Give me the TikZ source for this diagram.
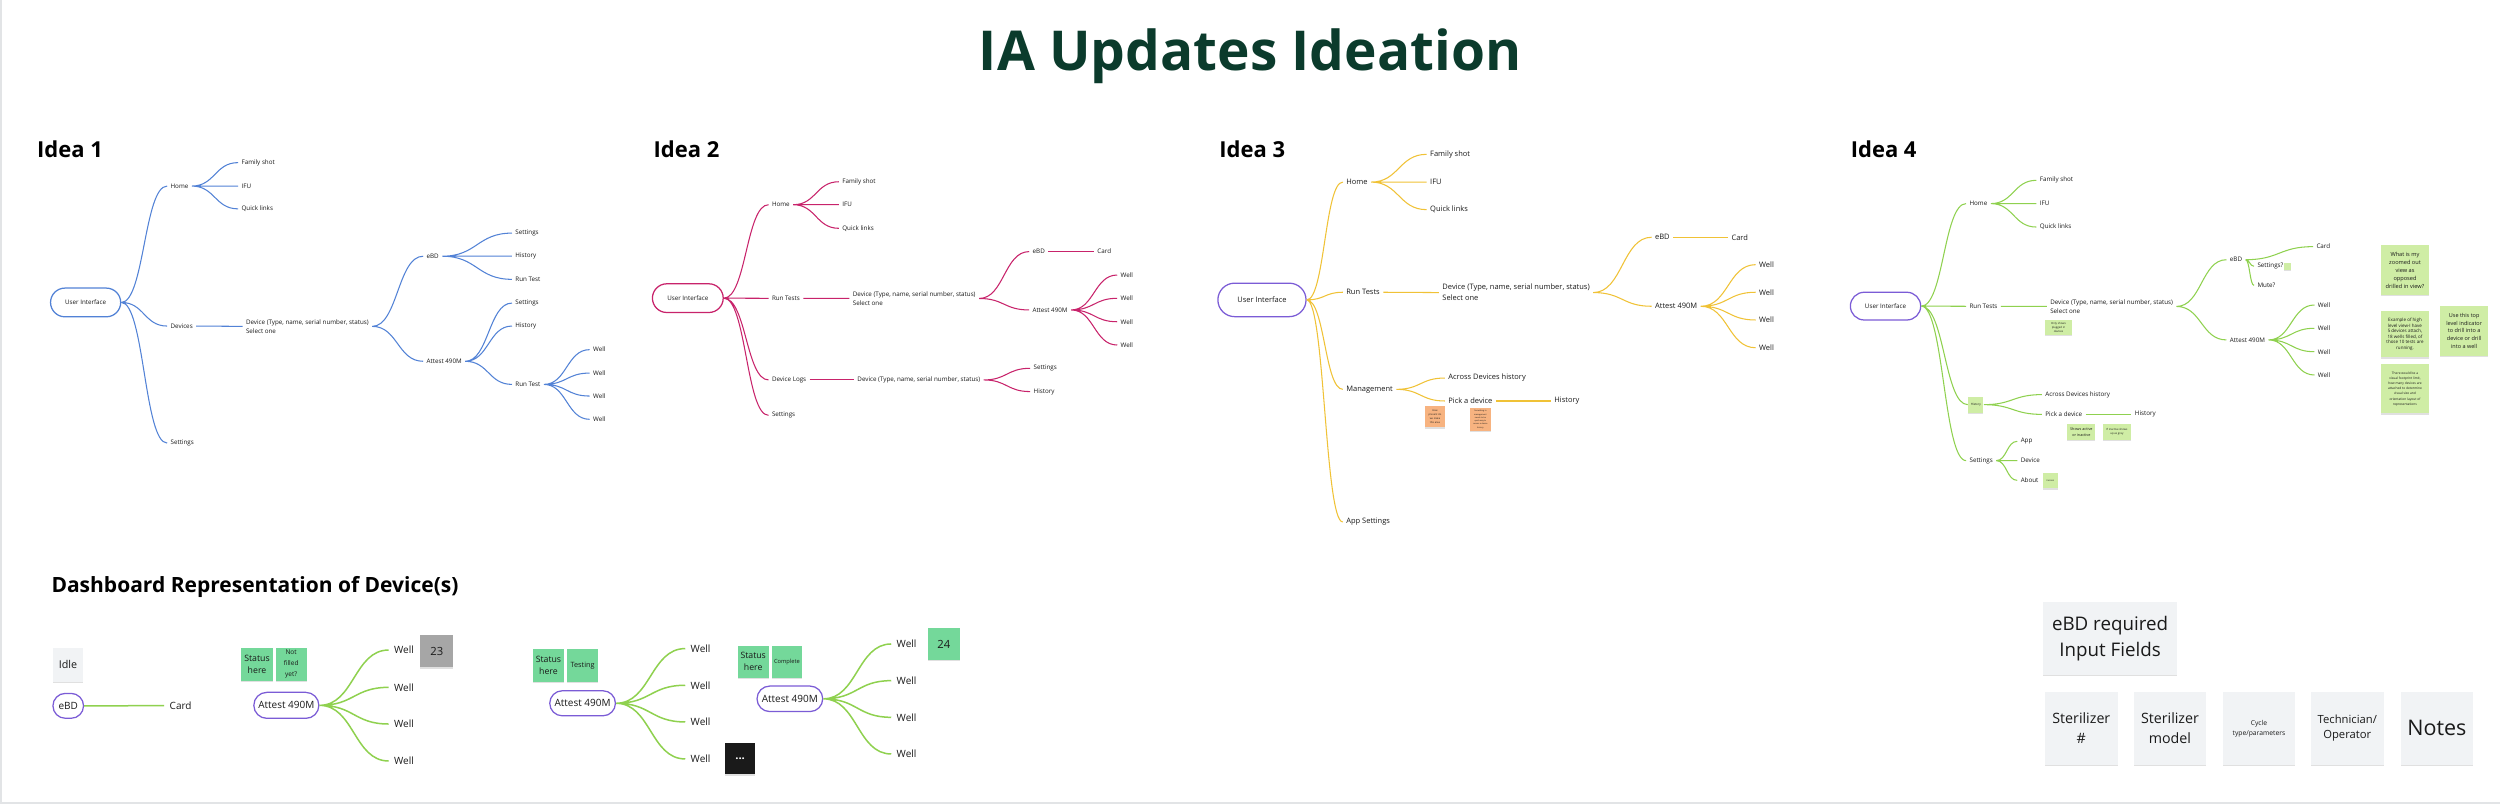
\documentclass[tikz,border=0pt]{standalone}
\usepackage{fontspec}
\setmainfont{Open Sans}
\usepackage{tikz}
\usetikzlibrary{shapes.misc, calc, shadows}
\definecolor{titlegreen}{HTML}{0B3B2C}
\definecolor{ideablue}{HTML}{5282D6}
\definecolor{ideapink}{HTML}{C8236B}
\definecolor{ideagold}{HTML}{F0C236}
\definecolor{ideagreen}{HTML}{8FD14F}
\definecolor{pillpurple}{HTML}{7B5CD6}
\definecolor{stickygreen}{HTML}{CFEDA5}
\definecolor{stickyorange}{HTML}{F7B380}
\definecolor{mint}{HTML}{74D89A}
\definecolor{wellgrey}{HTML}{A6A6A6}
\definecolor{paper}{HTML}{F1F3F5}
\definecolor{framegrey}{HTML}{E2E4E6}
\definecolor{ink}{HTML}{1A1A1A}
\newlength{\pxu}
\setlength{\pxu}{0.6378pt}
\newcommand{\mapfont}{\fontsize{2.5}{3.7}\selectfont}
\newcommand{\mapfontL}{\fontsize{3}{4.4}\selectfont}
\newcommand{\dashfont}{\fontsize{4}{5}\selectfont}
\tikzset{
    lbl/.style={anchor=west, inner xsep=1.2pt, inner ysep=0.3pt, xshift=-1.2pt, text=ink, font=\mapfont, align=left},
    lblL/.style={lbl, font=\mapfontL},
    dlbl/.style={lbl, inner xsep=2pt, xshift=-2pt, font=\dashfont},
    pill/.style={rounded rectangle, draw=pillpurple, line width=0.5pt, fill=white, inner sep=0pt, text=ink, font=\mapfont},
    head/.style={anchor=base west, inner sep=0pt, font=\fontsize{8.8}{10}\selectfont\bfseries, text=black},
    sticky/.style={rectangle, inner sep=0pt, align=center, text=ink, drop shadow={shadow xshift=0pt, shadow yshift=-0.5pt, opacity=0.12, fill=black}},
    branch/.style={to path={let \p1=(\tikztostart), \p2=(\tikztotarget) in .. controls ({0.5*\x1+0.5*\x2},\y1) and ({0.5*\x1+0.5*\x2},\y2) .. (\tikztotarget)}},
    link/.style={line width=0.42pt},
    dlink/.style={line width=0.6pt, ideagreen}
}
\begin{document}
\begin{tikzpicture}[x=\pxu, y=-\pxu]
    \useasboundingbox (0,0) rectangle (1568,506);
    \fill [white] (0,0) rectangle (1568,506);
    \draw [framegrey, line width=0.6pt] (0.6,0) -- (0.6,503.5) -- (1568,503.5);

    \node [anchor=base, inner sep=0pt, font=\fontsize{22}{26}\selectfont\bfseries, text=titlegreen] (title) at (784,44.5) {IA Updates Ideation};
    \node [head] (idea1) at (23,98.7) {Idea 1};
    \node [head] (idea2) at (409.6,98.7) {Idea 2};
    \node [head] (idea3) at (764.5,98.7) {Idea 3};
    \node [head] (idea4) at (1160.5,98.7) {Idea 4};
    \node [head, font=\fontsize{8.4}{10}\selectfont\bfseries] (dash) at (32,371.5) {Dashboard Representation of Device(s)};

    % Idea 1
    \node [pill, draw=ideablue, minimum width=44*\pxu, minimum height=18*\pxu] (ui1) at (53.7,189.7) {User Interface};
    \node [lbl] (home1) at (106.7,116.7) {Home};
    \node [lbl] (fam1) at (151.2,102) {Family shot};
    \node [lbl] (ifu1) at (151.2,116.7) {IFU};
    \node [lbl] (ql1) at (151.2,131) {Quick links};
    \node [lbl] (devs1) at (106.7,204.5) {Devices};
    \node [lbl] (sel1) at (154,204.7) {Device (Type, name, serial number, status)\\Select one};
    \node [lbl] (ebd1) at (267.3,160.7) {eBD};
    \node [lbl] (ebs1) at (323,146.2) {Settings};
    \node [lbl] (ebh1) at (323,160.7) {History};
    \node [lbl] (ebr1) at (323,175.2) {Run Test};
    \node [lbl] (att1) at (267.3,226.6) {Attest 490M};
    \node [lbl] (ats1) at (323,190.1) {Settings};
    \node [lbl] (ath1) at (323,204.5) {History};
    \node [lbl] (atr1) at (323,241.1) {Run Test};
    \node [lbl] (w1a) at (371.7,219.3) {Well};
    \node [lbl] (w1b) at (371.7,234) {Well};
    \node [lbl] (w1c) at (371.7,248.4) {Well};
    \node [lbl] (w1d) at (371.7,263) {Well};
    \node [lbl] (set1) at (106.7,277.9) {Settings};

    \draw [link, ideablue] (ui1.east) to[branch] (home1.west) (ui1.east) to[branch] (devs1.west) (ui1.east) to[branch] (set1.west);
    \draw [link, ideablue] (home1.east) to[branch] (fam1.west) (home1.east) to[branch] (ifu1.west) (home1.east) to[branch] (ql1.west);
    \draw [link, ideablue] (devs1.east) to[branch] (sel1.west);
    \draw [link, ideablue] (sel1.east) to[branch] (ebd1.west) (sel1.east) to[branch] (att1.west);
    \draw [link, ideablue] (ebd1.east) to[branch] (ebs1.west) (ebd1.east) to[branch] (ebh1.west) (ebd1.east) to[branch] (ebr1.west);
    \draw [link, ideablue] (att1.east) to[branch] (ats1.west) (att1.east) to[branch] (ath1.west) (att1.east) to[branch] (atr1.west);
    \draw [link, ideablue] (atr1.east) to[branch] (w1a.west) (atr1.east) to[branch] (w1b.west) (atr1.east) to[branch] (w1c.west) (atr1.east) to[branch] (w1d.west);

    % Idea 2
    \node [pill, draw=ideapink, minimum width=44.4*\pxu, minimum height=18*\pxu] (ui2) at (431.4,187) {User Interface};
    \node [lbl] (home2) at (483.9,128.4) {Home};
    \node [lbl] (fam2) at (528,114) {Family shot};
    \node [lbl] (ifu2) at (528,128.4) {IFU};
    \node [lbl] (ql2) at (528,143.2) {Quick links};
    \node [lbl] (rt2) at (483.9,187.1) {Run Tests};
    \node [lbl] (sel2) at (534.6,187.2) {Device (Type, name, serial number, status)\\Select one};
    \node [lbl] (ebd2) at (647.4,157.8) {eBD};
    \node [lbl] (card2) at (688,157.8) {Card};
    \node [lbl] (att2) at (647.3,194.4) {Attest 490M};
    \node [lbl] (w2a) at (702.6,172.5) {Well};
    \node [lbl] (w2b) at (702.6,187.1) {Well};
    \node [lbl] (w2c) at (702.6,201.8) {Well};
    \node [lbl] (w2d) at (702.6,216.4) {Well};
    \node [lbl] (logs2) at (483.9,238.3) {Device Logs};
    \node [lbl] (dv2) at (537.5,238.3) {Device (Type, name, serial number, status)};
    \node [lbl] (ls2) at (648,231) {Settings};
    \node [lbl] (lh2) at (648,245.6) {History};
    \node [lbl] (set2) at (483.9,260.5) {Settings};

    \draw [link, ideapink] (ui2.east) to[branch] (home2.west) (ui2.east) to[branch] (rt2.west) (ui2.east) to[branch] (logs2.west) (ui2.east) to[branch] (set2.west);
    \draw [link, ideapink] (home2.east) to[branch] (fam2.west) (home2.east) to[branch] (ifu2.west) (home2.east) to[branch] (ql2.west);
    \draw [link, ideapink] (rt2.east) to[branch] (sel2.west);
    \draw [link, ideapink] (sel2.east) to[branch] (ebd2.west) (sel2.east) to[branch] (att2.west);
    \draw [link, ideapink] (ebd2.east) to[branch] (card2.west);
    \draw [link, ideapink] (att2.east) to[branch] (w2a.west) (att2.east) to[branch] (w2b.west) (att2.east) to[branch] (w2c.west) (att2.east) to[branch] (w2d.west);
    \draw [link, ideapink] (logs2.east) to[branch] (dv2.west);
    \draw [link, ideapink] (dv2.east) to[branch] (ls2.west) (dv2.east) to[branch] (lh2.west);

    % Idea 3
    \node [pill, font=\mapfontL, minimum width=55.3*\pxu, minimum height=21*\pxu] (ui3) at (791.5,188.1) {User Interface};
    \node [lblL] (home3) at (844.1,114.2) {Home};
    \node [lblL] (fam3) at (896.7,96.8) {Family shot};
    \node [lblL] (ifu3) at (896.7,114.2) {IFU};
    \node [lblL] (ql3) at (896.7,131.5) {Quick links};
    \node [lblL] (rt3) at (844.1,183.3) {Run Tests};
    \node [lblL] (sel3) at (904.4,183.5) {Device (Type, name, serial number, status)\\Select one};
    \node [lblL] (ebd3) at (1037.8,148.8) {eBD};
    \node [lblL] (card3) at (1085.7,148.8) {Card};
    \node [lblL] (att3) at (1037.8,192.1) {Attest 490M};
    \node [lblL] (w3a) at (1103,166) {Well};
    \node [lblL] (w3b) at (1103,183.3) {Well};
    \node [lblL] (w3c) at (1103,200.7) {Well};
    \node [lblL] (w3d) at (1103,218.1) {Well};
    \node [lblL] (mgmt3) at (844.1,244.2) {Management};
    \node [lblL] (adh3) at (908.1,237.1) {Across Devices history};
    \node [lblL] (pick3) at (908.1,251.5) {Pick a device};
    \node [lblL] (hist3) at (974.6,251.5) {History};
    \node [lblL] (app3) at (844.1,327.4) {App Settings};
    \node [sticky, fill=stickyorange, minimum width=12.9*\pxu, minimum height=13.4*\pxu, font=\fontsize{1}{1.5}\selectfont] (note3a) at (900,261.3) {How\\present do\\we make\\this area};
    \node [sticky, fill=stickyorange, minimum width=12.9*\pxu, minimum height=14*\pxu, font=\fontsize{0.8}{1.3}\selectfont] (note3b) at (928.5,263.1) {Something in\\management\\needs to be\\quick way to\\access a device\\history};

    \draw [link, ideagold] (ui3.east) to[branch] (home3.west) (ui3.east) to[branch] (rt3.west) (ui3.east) to[branch] (mgmt3.west) (ui3.east) to[branch] (app3.west);
    \draw [link, ideagold] (home3.east) to[branch] (fam3.west) (home3.east) to[branch] (ifu3.west) (home3.east) to[branch] (ql3.west);
    \draw [link, ideagold] (rt3.east) to[branch] (sel3.west);
    \draw [link, ideagold] (sel3.east) to[branch] (ebd3.west) (sel3.east) to[branch] (att3.west);
    \draw [link, ideagold] (ebd3.east) to[branch] (card3.west);
    \draw [link, ideagold] (att3.east) to[branch] (w3a.west) (att3.east) to[branch] (w3b.west) (att3.east) to[branch] (w3c.west) (att3.east) to[branch] (w3d.west);
    \draw [link, ideagold] (mgmt3.east) to[branch] (adh3.west) (mgmt3.east) to[branch] (pick3.west);
    \draw [link, ideagold] (pick3.east) to[branch] (hist3.west);

    % Idea 4
    \node [pill, minimum width=44.1*\pxu, minimum height=17.4*\pxu] (ui4) at (1182.6,192) {User Interface};
    \node [lbl] (home4) at (1235,127.7) {Home};
    \node [lbl] (fam4) at (1279.1,113.1) {Family shot};
    \node [lbl] (ifu4) at (1279.1,127.7) {IFU};
    \node [lbl] (ql4) at (1279.1,142.4) {Quick links};
    \node [lbl] (rt4) at (1235,192.1) {Run Tests};
    \node [lbl] (sel4) at (1285.6,192.2) {Device (Type, name, serial number, status)\\Select one};
    \node [sticky, fill=stickygreen, minimum width=17.4*\pxu, minimum height=9.4*\pxu, font=\fontsize{1.1}{1.6}\selectfont] (plug4) at (1291.1,205.4) {Only shows\\plugged in\\devices};
    \node [lbl] (ebd4) at (1398.3,162.9) {eBD};
    \node [lbl] (card4) at (1452.6,154.7) {Card};
    \node [lbl] (setq4) at (1415.6,167) {Settings?};
    \node [lbl] (mute4) at (1415.6,179) {Mute?};
    \node [sticky, fill=stickygreen, minimum width=4.6*\pxu, minimum height=4.4*\pxu] (se4) at (1434.9,167.2) {};
    \node [lbl] (att4) at (1398.3,213.2) {Attest 490M};
    \node [lbl] (w4a) at (1453.5,191.3) {Well};
    \node [lbl] (w4b) at (1453.5,205.9) {Well};
    \node [lbl] (w4c) at (1453.5,220.6) {Well};
    \node [lbl] (w4d) at (1453.5,235.2) {Well};
    \node [sticky, fill=stickygreen, minimum width=9.5*\pxu, minimum height=10*\pxu, font=\fontsize{1.2}{1.5}\selectfont] (hbox4) at (1239.2,253.8) {History};
    \node [lbl] (adh4) at (1282.6,247.5) {Across Devices history};
    \node [lbl] (pick4) at (1282.6,259.9) {Pick a device};
    \node [lbl] (hist4) at (1338.7,259.9) {History};
    \node [sticky, fill=stickygreen, minimum width=17.7*\pxu, minimum height=10.1*\pxu, font=\fontsize{1.5}{2.2}\selectfont] (act4) at (1305.4,271) {Shows active\\or inactive};
    \node [sticky, fill=stickygreen, minimum width=17.7*\pxu, minimum height=10.1*\pxu, font=\fontsize{1.1}{1.6}\selectfont] (grey4) at (1327.7,271) {If inactive shows\\up as grey};
    \node [lbl] (set4) at (1235,288.9) {Settings};
    \node [lbl] (app4) at (1267.1,276.8) {App};
    \node [lbl] (dev4) at (1267.1,288.9) {Device};
    \node [lbl] (about4) at (1267.1,301.3) {About};
    \node [sticky, fill=stickygreen, minimum width=9*\pxu, minimum height=9.8*\pxu, font=\fontsize{0.9}{1.2}\selectfont] (ver4) at (1286,301.4) {Version};
    \node [sticky, fill=stickygreen, minimum width=29.9*\pxu, minimum height=31.1*\pxu, font=\fontsize{2.25}{3.25}\selectfont] (q4) at (1508.4,169.5) {What is my\\zoomed out\\view as\\opposed\\drilled in view?};
    \node [sticky, fill=stickygreen, minimum width=29.9*\pxu, minimum height=28.9*\pxu, font=\fontsize{1.8}{2.2}\selectfont] (ex4) at (1508.4,209.7) {Example of high\\level view-I have\\5 devices attach,\\18 wells filled, of\\those 10 tests are\\running.};
    \node [sticky, fill=stickygreen, minimum width=30.2*\pxu, minimum height=31.2*\pxu, font=\fontsize{2.2}{3.15}\selectfont] (use4) at (1545.5,207.5) {Use this top\\level indicator\\to drill into a\\device or drill\\into a well};
    \node [sticky, fill=stickygreen, minimum width=29.9*\pxu, minimum height=30.7*\pxu, font=\fontsize{1.3}{2.07}\selectfont] (vis4) at (1508.4,243.9) {There would be a\\visual footprint limit,\\how many devices are\\attached to determine\\visual size and\\orientation layout of\\representations};

    \draw [link, ideagreen] (ui4.east) to[branch] (home4.west) (ui4.east) to[branch] (rt4.west) (ui4.east) to[branch] (hbox4.west) (ui4.east) to[branch] (set4.west);
    \draw [link, ideagreen] (home4.east) to[branch] (fam4.west) (home4.east) to[branch] (ifu4.west) (home4.east) to[branch] (ql4.west);
    \draw [link, ideagreen] (rt4.east) to[branch] (sel4.west);
    \draw [link, ideagreen] (sel4.east) to[branch] (ebd4.west) (sel4.east) to[branch] (att4.west);
    \draw [link, ideagreen] (ebd4.east) to[branch] (card4.west) (ebd4.east) to[branch] (setq4.west) (ebd4.east) to[branch] (mute4.west);
    \draw [link, ideagreen] (att4.east) to[branch] (w4a.west) (att4.east) to[branch] (w4b.west) (att4.east) to[branch] (w4c.west) (att4.east) to[branch] (w4d.west);
    \draw [link, ideagreen] (hbox4.east) to[branch] (adh4.west) (hbox4.east) to[branch] (pick4.west);
    \draw [link, ideagreen] (pick4.east) to[branch] (hist4.west);
    \draw [link, ideagreen] (set4.east) to[branch] (app4.west) (set4.east) to[branch] (dev4.west) (set4.east) to[branch] (about4.west);

    % Dashboard
    \node [sticky, fill=paper, minimum width=18.8*\pxu, minimum height=20.9*\pxu, font=\fontsize{4.3}{5}\selectfont] (idle) at (42.6,417) {Idle};
    \node [pill, font=\dashfont, minimum width=19.2*\pxu, minimum height=15.6*\pxu] (ebdD) at (42.8,442.7) {eBD};
    \node [dlbl] (cardD) at (108,442.6) {Card};
    \draw [dlink] (ebdD.east) to[branch] (cardD.west);

    \node [sticky, fill=mint, minimum width=20*\pxu, minimum height=20.7*\pxu, font=\fontsize{3.5}{4.7}\selectfont] (stA) at (161.2,416.6) {Status\\here};
    \node [sticky, fill=mint, minimum width=19.6*\pxu, minimum height=20.7*\pxu, font=\fontsize{2.6}{4.4}\selectfont] (nfA) at (182.6,416.6) {Not\\filled\\yet?};
    \node [pill, font=\dashfont, minimum width=40.8*\pxu, minimum height=16.3*\pxu] (attA) at (179.6,442.4) {Attest 490M};
    \node [dlbl] (wAa) at (248.8,407.7) {Well};
    \node [dlbl] (wAb) at (248.8,431.1) {Well};
    \node [dlbl] (wAc) at (248.8,454.1) {Well};
    \node [dlbl] (wAd) at (248.8,477.3) {Well};
    \node [sticky, fill=wellgrey, minimum width=20.8*\pxu, minimum height=20.2*\pxu, font=\fontsize{4.5}{5}\selectfont] (cnt23) at (274,408.4) {23};
    \draw [dlink] (attA.east) to[branch] (wAa.west) (attA.east) to[branch] (wAb.west) (attA.east) to[branch] (wAc.west) (attA.east) to[branch] (wAd.west);

    \node [sticky, fill=mint, minimum width=19.2*\pxu, minimum height=20.2*\pxu, font=\fontsize{3.5}{4.7}\selectfont] (stB) at (344,417.4) {Status\\here};
    \node [sticky, fill=mint, minimum width=19.6*\pxu, minimum height=20.2*\pxu, font=\fontsize{2.9}{4}\selectfont] (testB) at (365.4,417.4) {Testing};
    \node [pill, font=\dashfont, minimum width=41.2*\pxu, minimum height=15.7*\pxu] (attB) at (365.4,441.1) {Attest 490M};
    \node [dlbl] (wBa) at (434.8,406.8) {Well};
    \node [dlbl] (wBb) at (434.8,429.8) {Well};
    \node [dlbl] (wBc) at (434.8,452.8) {Well};
    \node [dlbl] (wBd) at (434.8,476) {Well};
    \node [sticky, fill=ink, text=white, minimum width=18.8*\pxu, minimum height=19.9*\pxu, font=\fontsize{4.5}{5}\selectfont\bfseries] (dotsB) at (464.2,475.8) {...};
    \draw [dlink] (attB.east) to[branch] (wBa.west) (attB.east) to[branch] (wBb.west) (attB.east) to[branch] (wBc.west) (attB.east) to[branch] (wBd.west);

    \node [sticky, fill=mint, minimum width=19.2*\pxu, minimum height=20*\pxu, font=\fontsize{3.5}{4.7}\selectfont] (stC) at (472.4,415) {Status\\here};
    \node [sticky, fill=mint, minimum width=19.2*\pxu, minimum height=20*\pxu, font=\fontsize{2.3}{3}\selectfont] (compC) at (493.6,415) {Complete};
    \node [pill, font=\dashfont, minimum width=41.2*\pxu, minimum height=16*\pxu] (attC) at (495.4,438.3) {Attest 490M};
    \node [dlbl] (wCa) at (564,403.9) {Well};
    \node [dlbl] (wCb) at (564,426.9) {Well};
    \node [dlbl] (wCc) at (564,449.9) {Well};
    \node [dlbl] (wCd) at (564,472.9) {Well};
    \node [sticky, fill=mint, minimum width=20*\pxu, minimum height=20*\pxu, font=\fontsize{4.5}{5}\selectfont] (cnt24) at (592,404) {24};
    \draw [dlink] (attC.east) to[branch] (wCa.west) (attC.east) to[branch] (wCb.west) (attC.east) to[branch] (wCc.west) (attC.east) to[branch] (wCd.west);

    % eBD input fields
    \node [sticky, fill=paper, minimum width=84*\pxu, minimum height=46*\pxu, font=\fontsize{7.5}{10.4}\selectfont] (req) at (1323.4,400.4) {eBD required\\Input Fields};
    \node [sticky, fill=paper, minimum width=45.5*\pxu, minimum height=46*\pxu, font=\fontsize{5.7}{7.9}\selectfont] (fld1) at (1305.4,456.8) {Sterilizer\\\#};
    \node [sticky, fill=paper, minimum width=45.5*\pxu, minimum height=46*\pxu, font=\fontsize{5.7}{7.9}\selectfont] (fld2) at (1361,456.8) {Sterilizer\\model};
    \node [sticky, fill=paper, minimum width=45.5*\pxu, minimum height=46*\pxu, font=\fontsize{2.7}{4}\selectfont] (fld3) at (1416.8,456.8) {Cycle\\type/parameters};
    \node [sticky, fill=paper, minimum width=45.5*\pxu, minimum height=46*\pxu, font=\fontsize{4.5}{6.1}\selectfont] (fld4) at (1472.2,456.8) {Technician/\\Operator};
    \node [sticky, fill=paper, minimum width=45.5*\pxu, minimum height=46*\pxu, font=\fontsize{8.6}{10}\selectfont] (fld5) at (1528.4,456.8) {Notes};
\end{tikzpicture}
\end{document}
